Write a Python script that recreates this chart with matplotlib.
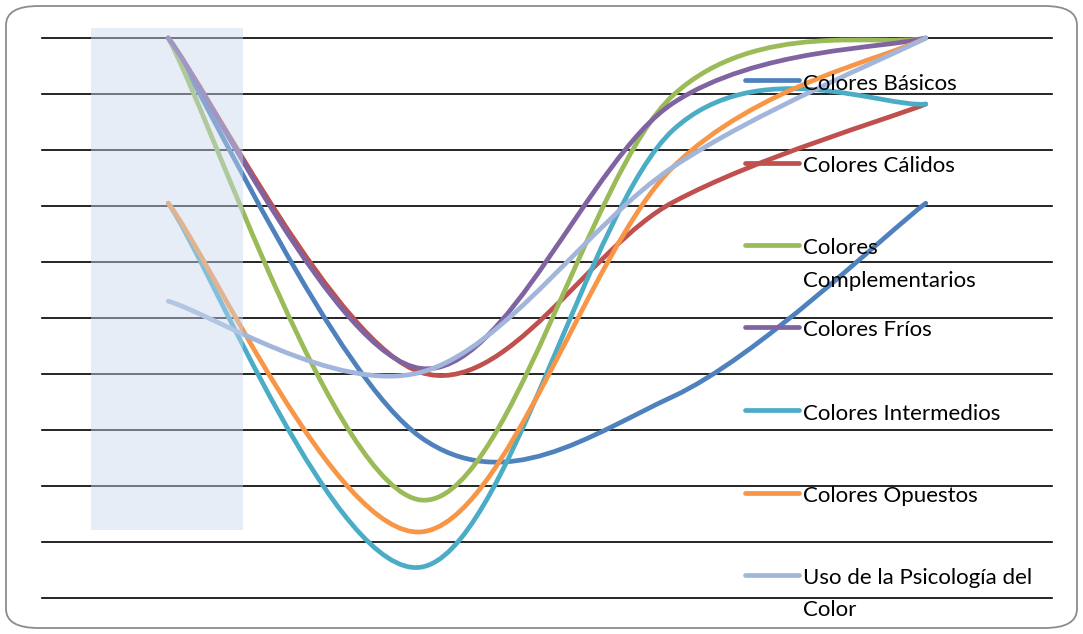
import matplotlib
matplotlib.use("Agg")
import matplotlib.pyplot as plt
from matplotlib.path import Path
from matplotlib.patches import PathPatch, Rectangle, FancyBboxPatch
from matplotlib.lines import Line2D

# four unnamed categories
categories = [0, 1, 2, 3]
colores_basicos = [10.0, 2.87, 3.6, 7.05]
colores_calidos = [10.0, 4.03, 7.07, 8.82]
colores_complementarios = [10.0, 1.75, 8.98, 10.0]
colores_frios = [10.0, 4.1, 8.84, 10.0]
colores_intermedios = [7.05, 0.55, 8.36, 8.82]
colores_opuestos = [7.05, 1.18, 7.7, 10.0]
uso_psicologia = [5.3, 4.03, 7.7, 10.0]

series = [
    ("Colores Básicos", colores_basicos, "#4F81BD"),
    ("Colores Cálidos", colores_calidos, "#C0504D"),
    ("Colores\nComplementarios", colores_complementarios, "#9BBB59"),
    ("Colores Fríos", colores_frios, "#8064A2"),
    ("Colores Intermedios", colores_intermedios, "#4BACC6"),
    ("Colores Opuestos", colores_opuestos, "#F79646"),
    ("Uso de la Psicología del\nColor", uso_psicologia, "#A2B6DB"),
]


def smooth_path(xs, ys):
    # Excel-like smoothed line: cubic bezier segments through the points
    pts = list(zip(xs, ys))
    n = len(pts)
    verts = [pts[0]]
    codes = [Path.MOVETO]
    for i in range(n - 1):
        p0 = pts[max(i - 1, 0)]
        p1 = pts[i]
        p2 = pts[i + 1]
        p3 = pts[min(i + 2, n - 1)]
        c1 = (p1[0] + (p2[0] - p0[0]) / 6, p1[1] + (p2[1] - p0[1]) / 6)
        c2 = (p2[0] - (p3[0] - p1[0]) / 6, p2[1] - (p3[1] - p1[1]) / 6)
        verts += [c1, c2, p2]
        codes += [Path.CURVE4] * 3
    return Path(verts, codes)


W, H = 1083, 634
fig = plt.figure(figsize=(W / 100, H / 100), dpi=100)
ax = fig.add_axes([42 / W, 1 - 598 / H, 1010 / W, 560 / H])
ax.set_xlim(-0.5, 3.5)
ax.set_ylim(0, 10)
ax.axis("off")

for yv in range(11):
    ax.axhline(yv, color="black", lw=1.2, zorder=1, clip_on=False)

for label, vals, col in series:
    patch = PathPatch(smooth_path(categories, vals), fill=False, edgecolor=col,
                      lw=3.4, capstyle="round", joinstyle="round", zorder=2)
    patch.set_clip_on(False)
    ax.add_patch(patch)

# translucent selection box over the first category
sel = Rectangle((-0.306, 1.21), 0.602, 8.97, facecolor="#c8d8ee", alpha=0.45,
                edgecolor="none", zorder=3, clip_on=False)
ax.add_patch(sel)

# legend drawn by hand, handle aligned with first text line
leg_y = [80, 163, 245, 327, 410, 493, 575]
for (label, vals, col), yp in zip(series, leg_y):
    yf = 1 - yp / H
    fig.add_artist(Line2D([745 / W, 799 / W], [yf, yf], color=col, lw=3.4,
                          solid_capstyle="round", zorder=4))
    lines = label.split("\n")
    for k, line in enumerate(lines):
        fig.text(803 / W, 1 - (yp + 9.5 + 32 * k) / H, line, fontsize=16,
                 family="Lato", va="baseline", ha="left", zorder=5)

border = FancyBboxPatch((6 / W, 6 / H), 1071 / W, 622 / H,
                        boxstyle="round,pad=0,rounding_size=0.03",
                        transform=fig.transFigure, facecolor="none",
                        edgecolor="#8c8c8c", lw=1.3, zorder=6)
fig.add_artist(border)

fig.savefig("out.png", dpi=100)
